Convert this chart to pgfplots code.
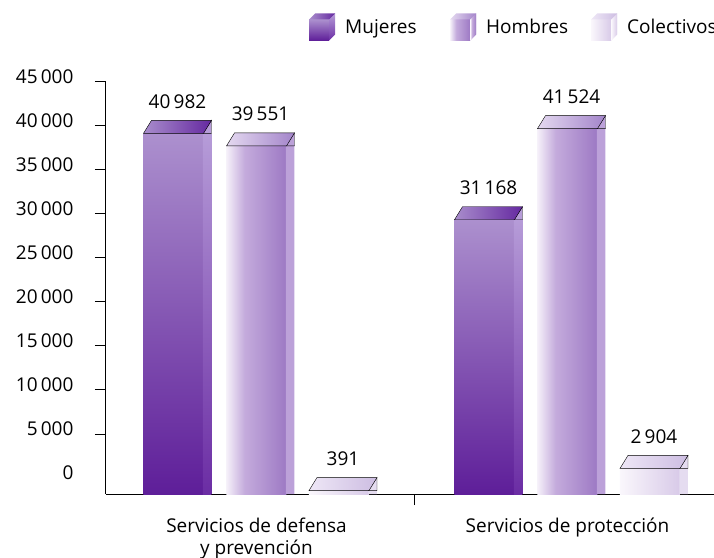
\documentclass[border=0pt]{standalone}
\usepackage{fontspec}
\setmainfont{Open Sans}
\usepackage{pgfplots}
\usepackage{pgfplotstable}
\pgfplotsset{compat=1.18}

\pgfplotstableread{
cat mujeres hombres colectivos
0   40982   39551   391
1   31168   41524   2904
}\datatable

% colours of the three series (front / side / top faces)
\definecolor{mFa}{HTML}{AC90CE}
\definecolor{mFb}{HTML}{5E1E99}
\definecolor{mSa}{HTML}{B69CD8}
\definecolor{mSb}{HTML}{6B2DA4}
\definecolor{mTa}{HTML}{A98DCC}
\definecolor{mTb}{HTML}{6428A0}
\definecolor{hA}{HTML}{F5F0F9}
\definecolor{hB}{HTML}{C4ABDC}
\definecolor{hC}{HTML}{9D79C4}
\definecolor{hS}{HTML}{BCA1D9}
\definecolor{hTa}{HTML}{E4D9F0}
\definecolor{hTb}{HTML}{A384CA}
\definecolor{cA}{HTML}{FAF7FC}
\definecolor{cB}{HTML}{D8CAE8}
\definecolor{cS}{HTML}{E5DCF0}
\definecolor{cTa}{HTML}{EEE7F6}
\definecolor{cTb}{HTML}{CDBDE2}

\pgfdeclarehorizontalshading{hfront}{100bp}{color(0bp)=(hA); color(25bp)=(hA); color(40bp)=(hB); color(75bp)=(hC); color(100bp)=(hC)}

\tikzset{
  m front/.style={top color=mFa, bottom color=mFb},
  m side/.style={top color=mSa, bottom color=mSb},
  m sidetop/.style={fill=mSa},
  m top/.style={left color=mTa, right color=mTb},
  h front/.style={shading=hfront},
  h side/.style={fill=hS},
  h sidetop/.style={fill=hS},
  h top/.style={left color=hTa, right color=hTb},
  c front/.style={left color=cA, right color=cB},
  c side/.style={fill=cS},
  c sidetop/.style={fill=cS},
  c top/.style={left color=cTa, right color=cTb},
}

% top face of a bar, drawn at the front top centre; #1 series prefix, #2 x offset in bp
\newcommand\cubetop[2]{%
  \path[#1 sidetop] ({#2bp+29.5bp},0bp) -- ({#2bp+38bp},13bp) -- ({#2bp+38bp},0bp) -- cycle;
  \path[#1 top] ({#2bp-30bp},0bp) -- ({#2bp+30bp},0bp) -- ({#2bp+38bp},13bp) -- ({#2bp-22bp},13bp) -- cycle;}
\pgfdeclareplotmark{topM}{\cubetop{m}{-83}}
\pgfdeclareplotmark{topH}{\cubetop{h}{0}}
\pgfdeclareplotmark{topC}{\cubetop{c}{82.5}}

\newcommand\cubeicon[1]{%
  \path[#1 front] (0bp,-13bp) rectangle (20bp,8bp);
  \path[#1 side] (20bp,-13bp) -- (20bp,8bp) -- (26bp,14bp) -- (26bp,-7bp) -- cycle;
  \path[#1 top] (0bp,8bp) -- (20bp,8bp) -- (26bp,14bp) -- (6bp,14bp) -- cycle;}

% one bar per plot, so that each bar gets its own shading
\pgfplotsset{
  first/.style={skip coords between index={1}{2}},
  second/.style={skip coords between index={0}{1}},
  front/.style={ybar, bar width=60bp, bar shift=#1, draw=none},
  side/.style={ybar, bar width=8.5bp, bar shift=#1, draw=none, forget plot},
}

\begin{document}
\begin{tikzpicture}[font=\fontsize{19bp}{22bp}\selectfont]
\begin{axis}[
    scale only axis,
    width=610.77bp, height=412bp,
    xmin=-0.4839, xmax=1.48,
    ymin=0, ymax=46818.18,
    axis lines*=left,
    clip=false,
    axis line style={line width=1bp, black},
    tick align=outside,
    major tick length=11bp,
    tick style={line width=1bp, black},
    scaled y ticks=false,
    % the floor is drawn 1818.18 units below the zero of the back wall
    ytick={6818.18,11818.18,16818.18,21818.18,26818.18,31818.18,36818.18,41818.18,46818.18},
    yticklabels={5\,000,10\,000,15\,000,20\,000,25\,000,30\,000,35\,000,40\,000,45\,000},
    extra y ticks={1818.18},
    extra y tick labels={0},
    extra y tick style={tick style={draw=none}},
    yticklabel style={xshift=-18bp, yshift=5bp},
    xtick={0.507},
    xticklabels={},
    extra x ticks={0,1},
    extra x tick labels={{Servicios de defensa\\y prevención},{Servicios de protección}},
    extra x tick style={tick style={draw=none}},
    xticklabel style={align=center, yshift=-9bp},
    /pgf/number format/1000 sep={\,},
    /pgf/number format/assume math mode=true,
    legend columns=3,
    legend cell align=left,
    legend style={at={(axis description cs:0.3324,1.1335)}, anchor=west,
        draw=none, fill=none, inner sep=0pt, nodes={inner sep=0pt},
        /tikz/every odd column/.append style={column sep=10bp}},
]
% front faces
\addplot[front=-83bp, first, m front, legend image code/.code={\cubeicon{m}}]
    table[x=cat, y=mujeres]{\datatable};
\addlegendentry{\makebox[105bp][l]{Mujeres}}
\addplot[front=0bp, first, h front, legend image code/.code={\cubeicon{h}}]
    table[x=cat, y=hombres]{\datatable};
\addlegendentry{\makebox[105bp][l]{Hombres}}
\addplot[front=82.5bp, first, c front, legend image code/.code={\cubeicon{c}}]
    table[x=cat, y=colectivos]{\datatable};
\addlegendentry{\makebox[105bp][l]{Colectivos}}
\addplot[front=-83bp, second, m front, forget plot] table[x=cat, y=mujeres]{\datatable};
\addplot[front=0bp, second, h front, forget plot] table[x=cat, y=hombres]{\datatable};
\addplot[front=82.5bp, second, c front, forget plot] table[x=cat, y=colectivos]{\datatable};
% side faces
\addplot[side=-49.25bp, first, m side] table[x=cat, y=mujeres]{\datatable};
\addplot[side=-49.25bp, second, m side] table[x=cat, y=mujeres]{\datatable};
\addplot[side=33.75bp, h side] table[x=cat, y=hombres]{\datatable};
\addplot[side=116.25bp, c side] table[x=cat, y=colectivos]{\datatable};
% top faces and value labels
\addplot[forget plot, only marks, mark=topM, nodes near coords,
    every node near coord/.append style={anchor=base, xshift=-79bp, yshift=25bp}]
    table[x=cat, y=mujeres]{\datatable};
\addplot[forget plot, only marks, mark=topH, nodes near coords,
    every node near coord/.append style={anchor=base, xshift=4bp, yshift=25bp}]
    table[x=cat, y=hombres]{\datatable};
\addplot[forget plot, only marks, mark=topC, nodes near coords,
    every node near coord/.append style={anchor=base, xshift=86.5bp, yshift=25bp}]
    table[x=cat, y=colectivos]{\datatable};
\end{axis}
\pgfresetboundingbox
\path[use as bounding box] ([shift={(-106bp,-64bp)}]current axis.south west)
    rectangle ([shift={(608bp,494bp)}]current axis.south west);
\end{tikzpicture}
\end{document}
